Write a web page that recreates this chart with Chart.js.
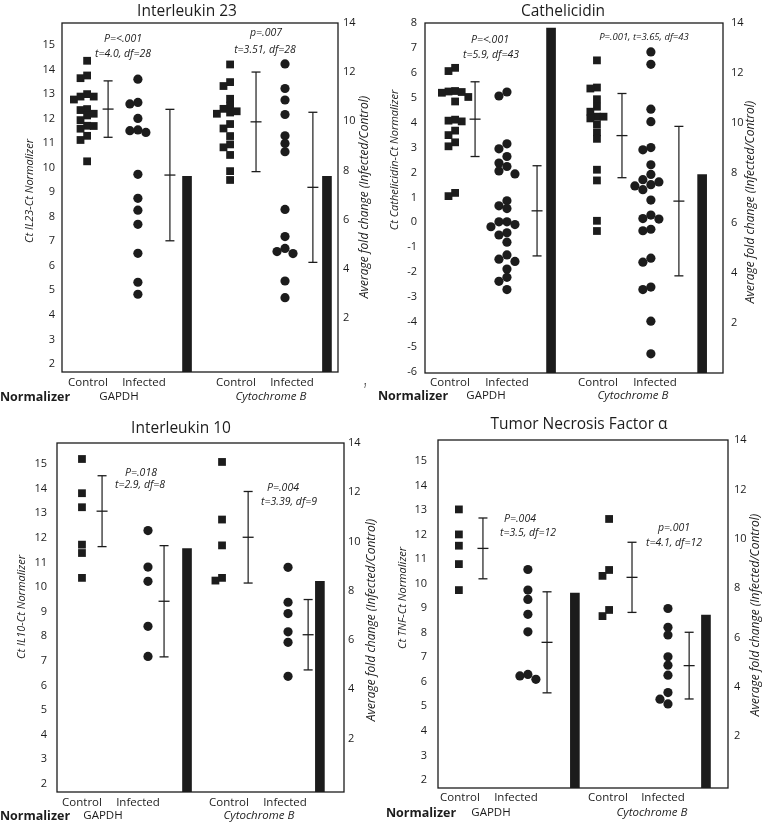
<!DOCTYPE html>
<html>
<head>
<meta charset="utf-8">
<script src="https://cdn.jsdelivr.net/npm/chart.js@4.4.1/dist/chart.umd.min.js"></script>
<style>
  html, body { margin: 0; padding: 0; background: #fff; }
  #wrap { position: relative; width: 766px; height: 825px; overflow: hidden; }
  #wrap canvas { position: absolute; }
</style>
</head>
<body>
<div id="wrap">
  <canvas id="il23" width="390" height="410" style="left:0;top:0"></canvas>
  <canvas id="camp" width="390" height="410" style="left:376px;top:0"></canvas>
  <canvas id="il10" width="390" height="410" style="left:0;top:415px"></canvas>
  <canvas id="tnf" width="390" height="410" style="left:376px;top:415px"></canvas>
</div>
<script>
// ---- data (Ct target - Ct normalizer), groups: GAPDH ctrl, GAPDH inf, CytB ctrl, CytB inf ----

// Interleukin 23
const il23GapdhCtrl = [14.36, 13.76, 13.65, 13.0, 12.9, 12.9, 12.78, 12.39, 12.35, 12.2, 12.13, 11.94, 11.71, 11.7, 11.59, 11.3, 11.13, 10.26];
const il23GapdhInf = [13.61, 12.66, 12.6, 12.01, 11.54, 11.51, 11.44, 9.73, 8.75, 8.27, 7.69, 6.51, 5.33, 4.84];
const il23CytbCtrl = [14.21, 13.49, 13.33, 12.81, 12.53, 12.4, 12.3, 12.25, 12.2, 11.78, 11.6, 11.29, 10.95, 10.83, 10.52, 9.86, 9.5];
const il23CytbInf = [14.23, 13.23, 12.76, 12.17, 11.3, 10.99, 10.65, 8.3, 7.19, 6.71, 6.58, 6.5, 5.38, 4.7];
const il23Mean = [12.39, 9.7, 11.87, 9.2];
const il23Sd = [1.15, 2.68, 2.03, 3.06];
const il23Fold = [7.76, 7.76];

// Cathelicidin
const campGapdhCtrl = [6.2, 6.07, 5.27, 5.25, 5.23, 5.2, 5.03, 4.85, 4.12, 4.08, 4.05, 3.68, 3.5, 3.21, 3.05, 1.18, 1.05];
const campGapdhInf = [5.23, 5.07, 3.15, 2.95, 2.64, 2.38, 2.24, 2.06, 1.94, 0.86, 0.66, 0.55, 0.02, 0.02, -0.09, -0.18, -0.42, -0.51, -0.8, -1.31, -1.48, -1.57, -1.88, -2.21, -2.37, -2.7];
const campCytbCtrl = [6.5, 5.41, 5.37, 4.94, 4.64, 4.44, 4.24, 4.24, 4.17, 3.93, 3.61, 3.35, 2.11, 1.68, 0.06, -0.35];
const campCytbInf = [6.84, 6.34, 4.54, 4.04, 3.0, 2.91, 2.31, 1.92, 1.71, 1.62, 1.51, 1.46, 1.31, 0.89, 0.29, 0.15, 0.13, -0.28, -0.34, -1.44, -1.6, -2.6, -2.7, -3.97, -5.28];
const campMean = [4.14, 0.46, 3.48, 0.85];
const campSd = [1.5, 1.81, 1.69, 3.0];
const campFold = [13.8, 7.94];

// Interleukin 10
const il10GapdhCtrl = [15.2, 13.81, 13.24, 11.72, 11.38, 10.37];
const il10GapdhInf = [12.29, 10.81, 10.23, 8.4, 7.18];
const il10CytbCtrl = [15.08, 12.74, 11.69, 10.37, 10.26];
const il10CytbInf = [10.8, 9.38, 8.92, 8.18, 7.75, 6.37];
const il10Mean = [13.08, 9.42, 12.02, 8.06];
const il10Sd = [1.44, 2.26, 1.86, 1.43];
const il10Fold = [9.71, 8.38];

// Tumor necrosis factor alpha
const tnfGapdhCtrl = [13.03, 12.01, 11.55, 10.8, 9.74];
const tnfGapdhInf = [10.58, 9.74, 9.36, 8.75, 8.04, 6.3, 6.24, 6.1];
const tnfCytbCtrl = [12.64, 10.56, 10.32, 8.93, 8.68];
const tnfCytbInf = [8.99, 8.22, 7.91, 7.02, 6.68, 6.27, 5.56, 5.29, 5.1];
const tnfMean = [11.44, 7.61, 10.26, 6.66];
const tnfSd = [1.24, 2.06, 1.43, 1.36];
const tnfFold = [7.8, 6.91];

const groupLabels = ['Control', 'Infected', 'Control', 'Infected'];
const normalizerLabels = ['GAPDH', 'Cytochrome B'];
const foldTitle = 'Average fold change (Infected/Control)';

// ---- look ----
const INK = '#1c1c1c';
const FONT = "'Open Sans', 'Noto Sans', sans-serif";
const CW = 390, CH = 410;

// put markers side by side where they would overlap
function swarm(values, center, pxX, pxY, step) {
  const placed = [];
  return values.map(function (v) {
    const py = v * pxY;
    let dx = 0;
    for (const k of [0, -1, 1, -2, 2, -3, 3]) {
      const cand = k * step;
      const hit = placed.some(p => Math.abs(p.x - cand) < step * 0.95 && Math.abs(p.y - py) < step * 0.95);
      if (!hit) { dx = cand; break; }
    }
    placed.push({ x: dx, y: py });
    return { x: center + dx / pxX, y: v };
  });
}

const decor = {
  id: 'decor',
  afterDraw(chart) {
    const p = chart.options.plugins.decor;
    const ctx = chart.ctx;
    const a = chart.chartArea;
    ctx.save();
    ctx.strokeStyle = INK;
    ctx.lineWidth = 1.3;
    ctx.strokeRect(a.left, a.top, a.right - a.left, a.bottom - a.top);
    ctx.fillStyle = INK;
    ctx.textAlign = 'center';
    ctx.textBaseline = 'middle';
    p.texts.forEach(function (t) {
      ctx.save();
      ctx.font = t[3] + ' ' + FONT;
      ctx.translate(t[1], t[2]);
      if (t[4]) ctx.rotate(-Math.PI / 2);
      ctx.fillText(t[0], 0, 0);
      ctx.restore();
    });
    ctx.restore();
  }
};

function buildPanel(id, p) {
  const pxX = (p.area.right - p.area.left) / 100;
  const pxY = (p.area.bottom - p.area.top) / (p.ctMax - p.ctMin);
  const datasets = [];
  p.ct.forEach(function (vals, g) {
    const square = g % 2 === 0;
    datasets.push({
      type: 'scatter',
      data: swarm(vals, p.ptX[g], pxX, pxY, square ? 6.6 : 8.0),
      yAxisID: 'y',
      pointStyle: square ? 'rect' : 'circle',
      pointRadius: square ? 5.5 : 4.6,
      backgroundColor: INK,
      borderWidth: 0,
      order: 1
    });
    const m = p.mean[g], s = p.sd[g], ex = p.errX[g];
    datasets.push({
      type: 'line',
      data: [{ x: ex, y: m - s }, { x: ex, y: m + s }],
      yAxisID: 'y',
      borderColor: INK,
      borderWidth: 1.2,
      pointRadius: 0,
      order: 2
    });
    datasets.push({
      type: 'scatter',
      data: [{ x: ex, y: m - s }, { x: ex, y: m }, { x: ex, y: m + s }],
      yAxisID: 'y',
      pointStyle: 'line',
      pointRadius: [4.5, 5.5, 4.5],
      borderColor: INK,
      borderWidth: 1.3,
      order: 2
    });
  });
  datasets.push({
    type: 'bar',
    data: p.fold.map((v, i) => ({ x: p.barX[i], y: v })),
    yAxisID: 'y2',
    backgroundColor: INK,
    barThickness: 9,
    base: p.foldMin,
    order: 3
  });

  const texts = [
    [p.title, p.titleAt[0], p.titleAt[1], '15.5px'],
    [p.ctTitle, p.ctTitleAt[0], p.ctTitleAt[1], 'italic 11px', true],
    [foldTitle, p.foldTitleAt[0], p.foldTitleAt[1], 'italic 12px', true],
    ['Normalizer', p.normAt[0], p.normAt[1], 'bold 12.5px']
  ];
  groupLabels.forEach((s, i) => texts.push([s, p.groupAt[i][0], p.groupAt[i][1], '11.5px']));
  texts.push([normalizerLabels[0], p.gapdhAt[0], p.gapdhAt[1], '11.5px']);
  texts.push([normalizerLabels[1], p.cytbAt[0], p.cytbAt[1], 'italic 11.5px']);
  p.stats.forEach(s => texts.push([s[0], s[1], s[2], 'italic ' + s[3]]));

  new Chart(document.getElementById(id), {
    type: 'scatter',
    data: { datasets: datasets },
    options: {
      responsive: false,
      animation: false,
      events: [],
      layout: { padding: { top: p.area.top, bottom: CH - p.area.bottom, left: 0, right: 0 } },
      plugins: {
        legend: { display: false },
        tooltip: { enabled: false },
        decor: { texts: texts }
      },
      scales: {
        x: { type: 'linear', min: 0, max: 100, offset: false, grid: { offset: false }, display: false },
        y: {
          position: 'left',
          min: p.ctMin, max: p.ctMax,
          grid: { display: false, drawTicks: false },
          border: { display: false },
          ticks: { stepSize: 1, includeBounds: false, padding: p.tickPad[0], color: INK, font: { family: FONT, size: 11 } },
          afterFit: function (s) { s.width = p.area.left; }
        },
        y2: {
          position: 'right',
          min: p.foldMin, max: 14,
          grid: { display: false, drawTicks: false },
          border: { display: false },
          ticks: {
            stepSize: 2, includeBounds: false, padding: p.tickPad[1], color: INK, font: { family: FONT, size: 11 },
            callback: v => (v === 0 ? null : v)
          },
          afterFit: function (s) { s.width = CW - p.area.right; }
        }
      }
    },
    plugins: [decor]
  });
}

buildPanel('il23', {
  ct: [il23GapdhCtrl, il23GapdhInf, il23CytbCtrl, il23CytbInf],
  mean: il23Mean, sd: il23Sd, fold: il23Fold,
  ctMin: 1.67, ctMax: 15.9, foldMin: -0.2,
  area: { left: 62, right: 338, top: 23, bottom: 372 },
  tickPad: [7, 5],
  ptX: [9.1, 27.5, 60.9, 80.8], errX: [16.7, 39.1, 70.3, 90.9], barX: [45.3, 96.0],
  title: 'Interleukin 23', titleAt: [187, 12],
  ctTitle: 'Ct IL23-Ct Normalizer', ctTitleAt: [30, 191], foldTitleAt: [365, 197],
  groupAt: [[88, 383], [144, 383], [236, 383], [292, 383]],
  gapdhAt: [119, 397], cytbAt: [271, 397], normAt: [35, 397],
  stats: [['P=<.001', 123, 39, '10.5px'], ['t=4.0, df=28', 123, 54, '10.5px'],
          ['p=.007', 266, 33, '10.5px'], ['t=3.51, df=28', 265, 50, '10.5px'], ['1', 365, 386, '7px']]
});

buildPanel('camp', {
  ct: [campGapdhCtrl, campGapdhInf, campCytbCtrl, campCytbInf],
  mean: campMean, sd: campSd, fold: campFold,
  ctMin: -6.05, ctMax: 8, foldMin: 0,
  area: { left: 49, right: 347, top: 23, bottom: 373 },
  tickPad: [8, 8],
  ptX: [10.1, 27.5, 57.7, 75.8], errX: [16.8, 37.6, 66.1, 85.2], barX: [42.3, 93.0],
  title: 'Cathelicidin', titleAt: [187, 12],
  ctTitle: 'Ct Cathelicidin-Ct Normalizer', ctTitleAt: [19, 160], foldTitleAt: [375, 202],
  groupAt: [[74, 383], [131, 383], [222, 383], [279, 383]],
  gapdhAt: [110, 396], cytbAt: [257, 396], normAt: [37, 396],
  stats: [['P=<.001', 114, 40, '10.5px'], ['t=5.9, df=43', 115, 55, '10.5px'],
          ['P=.001, t=3.65, df=43', 268, 37, '9.5px']]
});

buildPanel('il10', {
  ct: [il10GapdhCtrl, il10GapdhInf, il10CytbCtrl, il10CytbInf],
  mean: il10Mean, sd: il10Sd, fold: il10Fold,
  ctMin: 1.67, ctMax: 15.85, foldMin: -0.17,
  area: { left: 57, right: 344, top: 28, bottom: 377 },
  tickPad: [10, 4],
  ptX: [8.7, 31.7, 57.5, 80.5], errX: [15.7, 37.3, 66.6, 87.5], barX: [45.3, 91.6],
  title: 'Interleukin 10', titleAt: [181, 14],
  ctTitle: 'Ct IL10-Ct Normalizer', ctTitleAt: [22, 192], foldTitleAt: [372, 205],
  groupAt: [[82, 388], [138, 388], [229, 388], [285, 388]],
  gapdhAt: [103, 401], cytbAt: [259, 401], normAt: [35, 401],
  stats: [['P=.018', 141, 58, '10.5px'], ['t=2.9, df=8', 140, 70, '10.5px'],
          ['P=.004', 283, 73, '10.5px'], ['t=3.39, df=9', 289, 87, '10.5px']]
});

buildPanel('tnf', {
  ct: [tnfGapdhCtrl, tnfGapdhInf, tnfCytbCtrl, tnfCytbInf],
  mean: tnfMean, sd: tnfSd, fold: tnfFold,
  ctMin: 1.67, ctMax: 15.86, foldMin: -0.1,
  area: { left: 62, right: 352, top: 25, bottom: 373 },
  tickPad: [11, 6],
  ptX: [7.2, 31.0, 59.0, 79.3], errX: [15.5, 37.6, 66.9, 86.6], barX: [47.2, 92.4],
  title: 'Tumor Necrosis Factor \u03B1', titleAt: [203, 10],
  ctTitle: 'Ct TNF-Ct Normalizer', ctTitleAt: [27, 183], foldTitleAt: [380, 200],
  groupAt: [[84, 383], [140, 383], [232, 383], [287, 383]],
  gapdhAt: [115, 398], cytbAt: [276, 398], normAt: [45, 398],
  stats: [['P=.004', 144, 104, '10.5px'], ['t=3.5, df=12', 152, 118, '10.5px'],
          ['p=.001', 298, 113, '10.5px'], ['t=4.1, df=12', 298, 128, '10.5px']]
});
</script>
</body>
</html>
